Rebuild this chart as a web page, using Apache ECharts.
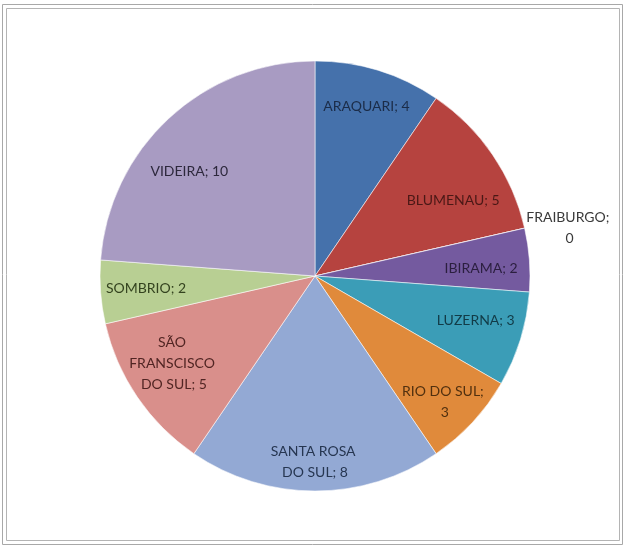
<!DOCTYPE html>
<html>
<head>
<meta charset="utf-8">
<script src="https://cdn.jsdelivr.net/npm/echarts@6/dist/echarts.min.js"></script>
<style>
  html, body { margin: 0; padding: 0; background: #ffffff; }
  #chart { width: 625px; height: 546px; }
</style>
</head>
<body>
<div id="chart"></div>
<script>
// Campus names and their counts, in slice order (clockwise from 12 o'clock)
const categories = ['ARAQUARI', 'BLUMENAU', 'FRAIBURGO', 'IBIRAMA', 'LUZERNA',
  'RIO DO SUL', 'SANTA ROSA DO SUL', 'SÃO FRANSCISCO DO SUL', 'SOMBRIO', 'VIDEIRA'];
const values = [4, 5, 0, 2, 3, 3, 8, 5, 2, 10];

// Slice fills and the darker tone used for each slice's label
const sliceColors = ['#4571ab', '#b6433f', '#8fb253', '#745a9f', '#3b9db7',
  '#e08a3b', '#93a9d4', '#d98f8b', '#b8cf93', '#a89bc2'];
const labelColors = ['#1b2c48', '#4a1816', '#333f22', '#2b1f3f', '#123b47',
  '#51300f', '#263651', '#512523', '#34431f', '#2d283c'];
// Wrapping width for labels that run over several lines
const labelWidths = [null, null, 90, null, null, 84, 96, 92, null, null];

const chart = echarts.init(document.getElementById('chart'), null, { renderer: 'canvas' });

const cx = 315, cy = 276, R = 215;

// small nudges so each label sits where a best-fit placement puts it
const labelNudges = [[0, -3], [-6, 23], [-5, 0], [-8, 6], [-6, -7], [0, 7],
  [0, 11], [3, -11], [5, -1], [-7, 23]];

const sliceData = categories.map((name, i) => ({
  name: name,
  value: values[i],
  itemStyle: { color: sliceColors[i] }
}));

const labelData = categories.map((name, i) => {
  const label = { color: labelColors[i] };
  if (labelWidths[i]) { label.width = labelWidths[i]; label.overflow = 'break'; }
  if (values[i] === 0) {
    label.position = 'outside';
    label.color = '#3a3a3a';
  }
  return { name: name, value: values[i], label: label };
});

chart.setOption({
  backgroundColor: '#ffffff',
  animation: false,
  graphic: [
    { type: 'rect', shape: { x: 2.5, y: 4.5, width: 620, height: 540 },
      style: { fill: 'none', stroke: '#a8a8a8', lineWidth: 1 } },
    { type: 'rect', shape: { x: 6.5, y: 8.5, width: 613, height: 532 },
      style: { fill: 'none', stroke: '#b4b4b4', lineWidth: 1 } }
  ],
  series: [
    {
      type: 'pie',
      center: [cx, cy],
      radius: [0, R],
      startAngle: 90,
      clockwise: true,
      avoidLabelOverlap: false,
      silent: true,
      label: { show: false },
      labelLine: { show: false },
      itemStyle: { borderColor: 'rgba(255,255,255,0.55)', borderWidth: 1 },
      data: sliceData
    },
    {
      // transparent ring that carries the data labels out toward the rim
      type: 'pie',
      center: [cx, cy],
      radius: [128, R],
      startAngle: 90,
      clockwise: true,
      avoidLabelOverlap: false,
      silent: true,
      itemStyle: { color: 'rgba(0,0,0,0)' },
      label: {
        show: true,
        position: 'inside',
        fontFamily: 'Lato, "Open Sans", sans-serif',
        fontSize: 14,
        lineHeight: 21,
        align: 'center',
        formatter: p => p.name + '; ' + p.value
      },
      labelLine: { show: false, length: 0, length2: 0 },
      labelLayout: function (params) {
        const i = params.dataIndex;
        const n = labelNudges[i];
        if (values[i] === 0) {
          // outside label: centre the wrapped lines under each other
          return { align: 'center', dx: params.labelRect.width / 2 + n[0], dy: n[1] };
        }
        return { dx: n[0], dy: n[1] };
      },
      data: labelData
    }
  ]
});
</script>
</body>
</html>
